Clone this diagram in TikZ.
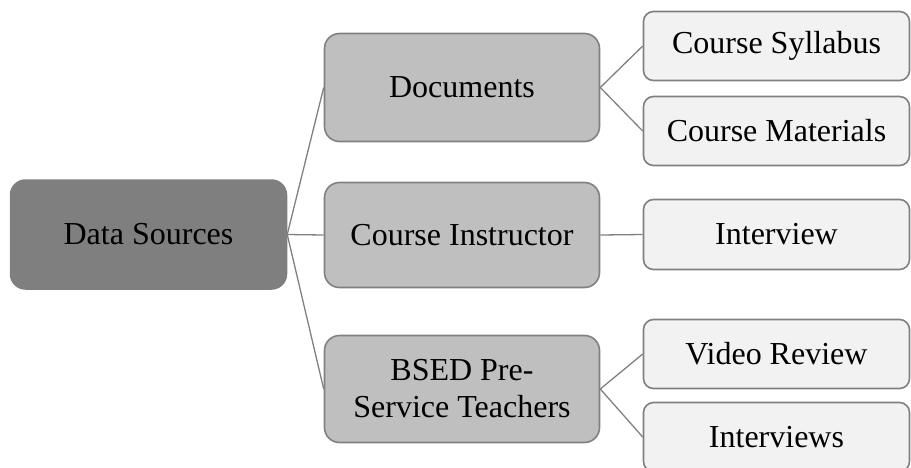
\documentclass[tikz,border=0pt]{standalone}
\usepackage{fontspec}
\setmainfont{Liberation Serif}
\definecolor{dark}{HTML}{7F7F7F}
\definecolor{mid}{HTML}{BFBFBF}
\definecolor{light}{HTML}{F2F2F2}
\definecolor{edge}{HTML}{808080}
\begin{document}
\begin{tikzpicture}[x=1pt,y=-1pt,
  box/.style={rectangle, inner sep=0pt, align=center,
    font=\fontsize{32}{37}\selectfont, text=black},
  rootbox/.style={box, fill=dark, draw=dark, line width=1.5pt, rounded corners=15pt,
    minimum width=276pt, minimum height=109pt},
  midbox/.style={box, fill=mid, draw=edge, line width=1.6pt, rounded corners=15pt,
    minimum width=275pt, minimum height=107pt},
  leafbox/.style={box, fill=light, draw=edge, line width=1.6pt, rounded corners=10pt,
    minimum width=266pt, minimum height=69pt},
  link/.style={draw=edge, line width=1.3pt}]
\useasboundingbox (0,0) rectangle (911,467);
\node[rootbox] (ds) at (148.5,234.5) {Data Sources};
\node[midbox, minimum height=108pt] (doc) at (462,87.5) {Documents};
\node[midbox, minimum height=105pt] (ci) at (462,235) {Course Instructor};
\node[midbox] (bsed) at (462,389) {BSED Pre-\\Service Teachers};
\node[leafbox] (syl) at (776.5,46) {Course Syllabus};
\node[leafbox] (mat) at (776.5,131) {Course Materials};
\node[leafbox, minimum height=70pt] (int) at (776.5,234.5) {Interview};
\node[leafbox] (vid) at (776.5,354) {Video Review};
\node[leafbox] (ints) at (776.5,437) {Interviews};
\draw[link] (ds.east) -- (doc.west);
\draw[link] (ds.east) -- (ci.west);
\draw[link] (ds.east) -- (bsed.west);
\draw[link] (doc.east) -- (syl.west);
\draw[link] (doc.east) -- (mat.west);
\draw[link] (ci.east) -- (int.west);
\draw[link] (bsed.east) -- (vid.west);
\draw[link] (bsed.east) -- (ints.west);
\end{tikzpicture}
\end{document}
